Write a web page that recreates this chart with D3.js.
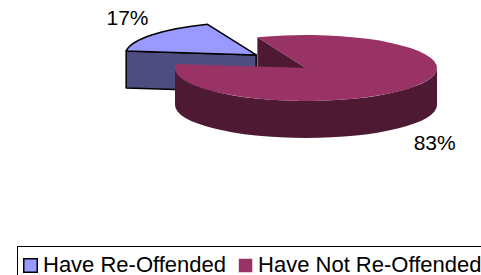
<!DOCTYPE html>
<html>
<head>
  <meta charset="UTF-8">
  <script src="https://d3js.org/d3.v7.min.js"></script>
  <style>
    body { margin: 0; background: #fff; }
    text { font-family: Arial, "Liberation Sans", sans-serif; fill: #000; }
  </style>
</head>
<body>
  <script>
    // chart data
    var categories = ["Have Re-Offended", "Have Not Re-Offended"];
    var values = [17, 83];
    var labels = ["17%", "83%"];
    var topColors = ["#9999ff", "#993366"];
    var sideColors = ["#4d4d80", "#4d1933"];

    var width = 481;
    var height = 275;
    var svg = d3.select("body")
      .append("svg")
      .attr("width", width)
      .attr("height", height);

    // pie geometry (flattened ellipse + extrusion)
    var cx = 306, cy = 68, rx = 131, ry = 33, depth = 37;
    var explodeX = [0.48, 0], explodeY = [0.65, 0];
    var deg = Math.PI / 180;

    var pie = d3.pie()
      .sort(null)
      .value(function(d) { return d; })
      .startAngle(277 * deg)
      .endAngle(277 * deg + 2 * Math.PI);
    var slices = pie(values);

    function pt(a, c, dz) {
      return [c[0] + rx * Math.sin(a), c[1] - ry * Math.cos(a) + (dz || 0)];
    }

    // centre of each slice, pushed out along its middle angle
    slices.forEach(function(s, i) {
      var mid = (s.startAngle + s.endAngle) / 2;
      s.mid = mid;
      s.c = [cx + rx * explodeX[i] * Math.sin(mid), cy - ry * explodeY[i] * Math.cos(mid)];
    });

    function topPath(s) {
      var p0 = pt(s.startAngle, s.c), p1 = pt(s.endAngle, s.c);
      var large = (s.endAngle - s.startAngle) > Math.PI ? 1 : 0;
      return "M" + s.c + "L" + p0 + "A" + rx + "," + ry + " 0 " + large + " 1 " + p1 + "Z";
    }

    function facePath(s, a) {
      var p = pt(a, s.c), pd = pt(a, s.c, depth);
      return "M" + s.c + "L" + p + "L" + pd + "L" + [s.c[0], s.c[1] + depth] + "Z";
    }

    // visible part of outer wall: angles between 90 and 270 deg
    function sidePaths(s) {
      var out = [];
      for (var k = -1; k <= 2; k++) {
        var lo = Math.max(s.startAngle, 90 * deg + k * 2 * Math.PI);
        var hi = Math.min(s.endAngle, 270 * deg + k * 2 * Math.PI);
        if (hi > lo) {
          var a = pt(lo, s.c), b = pt(hi, s.c);
          var ad = pt(lo, s.c, depth), bd = pt(hi, s.c, depth);
          out.push("M" + a + "A" + rx + "," + ry + " 0 0 1 " + b +
            "L" + bd + "A" + rx + "," + ry + " 0 0 0 " + ad + "Z");
        }
      }
      return out;
    }

    var strokes = ["#000", "none"];
    var g = svg.append("g");

    slices.forEach(function(s, i) {
      var sg = g.append("g")
        .attr("stroke", strokes[i])
        .attr("stroke-width", 1.5)
        .attr("stroke-linejoin", "round");
      if (Math.sin(s.startAngle) < 0) {
        sg.append("path").attr("d", facePath(s, s.startAngle)).attr("fill", sideColors[i]);
      }
      if (Math.sin(s.endAngle) > 0) {
        sg.append("path").attr("d", facePath(s, s.endAngle)).attr("fill", sideColors[i]);
      }
      sidePaths(s).forEach(function(d) {
        sg.append("path").attr("d", d).attr("fill", sideColors[i]);
      });
      sg.append("path").attr("d", topPath(s)).attr("fill", topColors[i]);
    });

    // percentage labels
    svg.selectAll(".lbl")
      .data(slices)
      .enter()
      .append("text")
      .attr("class", "lbl")
      .attr("text-anchor", "middle")
      .attr("font-size", 21)
      .attr("x", function(d) { return d.c[0] + rx * 1.24 * Math.sin(d.mid); })
      .attr("y", function(d) {
        var c = Math.cos(d.mid);
        return d.c[1] - ry * 1.85 * c + (c < 0 ? depth : 0) + 7.5;
      })
      .text(function(d, i) { return labels[i]; });

    // legend
    var legend = svg.append("g").attr("class", "legend");
    legend.append("rect")
      .attr("x", 17.5).attr("y", 246.5)
      .attr("width", 490).attr("height", 60)
      .attr("fill", "none").attr("stroke", "#000").attr("stroke-width", 1);

    var lx = 23;
    categories.forEach(function(name, i) {
      legend.append("rect")
        .attr("x", lx + 0.75).attr("y", 258.75)
        .attr("width", 13.5).attr("height", 13.5)
        .attr("fill", topColors[i])
        .attr("stroke", strokes[i]).attr("stroke-width", 1.5);
      var t = legend.append("text")
        .attr("x", lx + 20).attr("y", 272)
        .attr("font-size", 22)
        .text(name);
      lx = lx + 20 + t.node().getComputedTextLength() + 12;
    });
  </script>
</body>
</html>
